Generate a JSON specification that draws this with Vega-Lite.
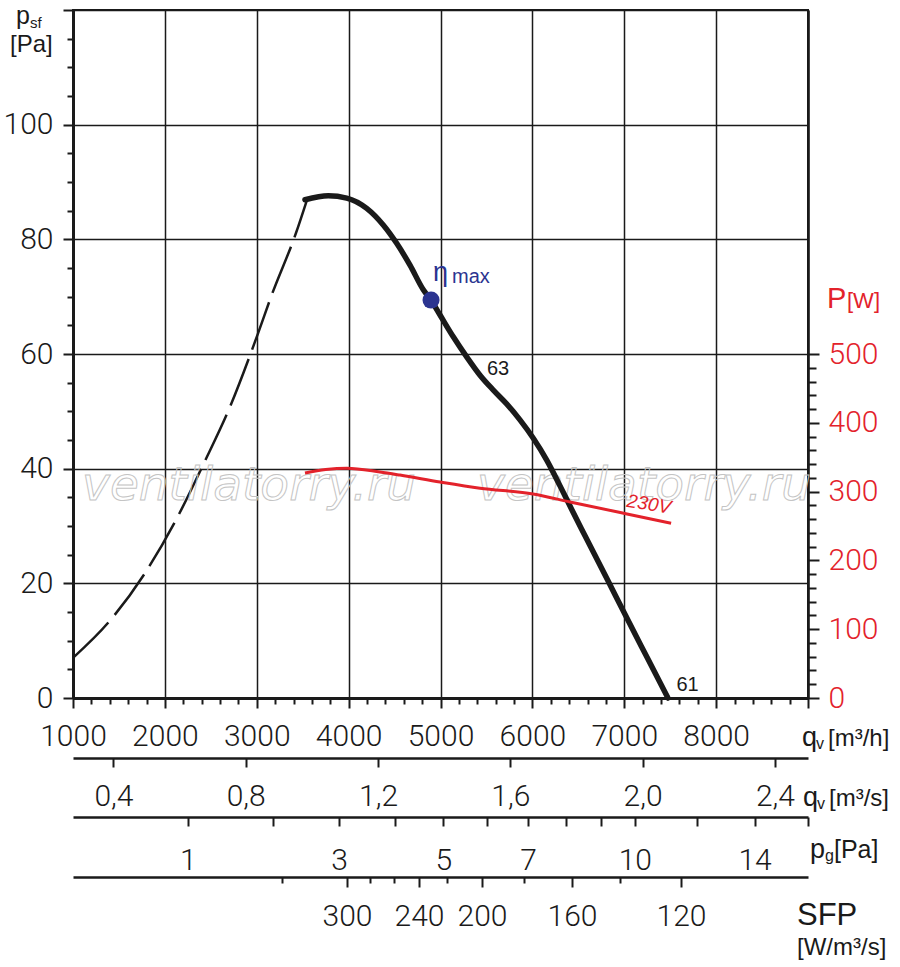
{
  "$schema": "https://vega.github.io/schema/vega-lite/v6.json",
  "width": 735,
  "height": 688,
  "autosize": {"type": "none"},
  "padding": {"left": 73, "top": 10, "right": 92, "bottom": 269},
  "background": "white",
  "config": {
    "view": {"stroke": "#1a1a1a", "strokeWidth": 2},
    "text": {"fontWeight": 300},
    "axis": {
      "labelFont": "Roboto",
      "labelFontSize": 30,
      "labelFontWeight": 300,
      "labelColor": "#1a1a1a",
      "tickColor": "#1a1a1a",
      "domainColor": "#1a1a1a",
      "tickWidth": 2,
      "domainWidth": 2.5,
      "gridColor": "#1a1a1a",
      "gridWidth": 1.5,
      "labelOverlap": false,
      "labelFlush": false,
      "labelBound": false
    }
  },
  "datasets": {
    "fan_dashed": [
      {"qv": 1000, "psf": 7.0},
      {"qv": 1392, "psf": 13.3},
      {"qv": 1784, "psf": 21.8},
      {"qv": 2132, "psf": 31.4},
      {"qv": 2426, "psf": 41.0},
      {"qv": 2709, "psf": 50.8},
      {"qv": 3014, "psf": 63.6},
      {"qv": 3163, "psf": 70.3},
      {"qv": 3427, "psf": 81.1},
      {"qv": 3547, "psf": 86.9}
    ],
    "fan_solid": [
      {"qv": 3525, "psf": 86.9},
      {"qv": 3779, "psf": 87.6},
      {"qv": 3979, "psf": 87.2},
      {"qv": 4197, "psf": 85.4},
      {"qv": 4377, "psf": 82.5},
      {"qv": 4523, "psf": 79.3},
      {"qv": 4668, "psf": 75.5},
      {"qv": 4813, "psf": 71.2},
      {"qv": 4897, "psf": 69.4},
      {"qv": 4995, "psf": 66.8},
      {"qv": 5139, "psf": 63.0},
      {"qv": 5285, "psf": 59.5},
      {"qv": 5430, "psf": 56.3},
      {"qv": 5575, "psf": 53.7},
      {"qv": 5720, "psf": 51.3},
      {"qv": 5865, "psf": 48.5},
      {"qv": 6010, "psf": 45.3},
      {"qv": 6156, "psf": 41.5},
      {"qv": 6301, "psf": 37.0},
      {"qv": 6446, "psf": 32.3},
      {"qv": 6573, "psf": 28.3},
      {"qv": 6812, "psf": 20.8},
      {"qv": 7030, "psf": 13.9},
      {"qv": 7248, "psf": 7.1},
      {"qv": 7476, "psf": 0}
    ],
    "power": [
      {"qv": 3525, "p": 327},
      {"qv": 3750, "p": 332},
      {"qv": 3982, "p": 334},
      {"qv": 4341, "p": 328.5},
      {"qv": 4559, "p": 324},
      {"qv": 4995, "p": 314},
      {"qv": 5430, "p": 305},
      {"qv": 6007, "p": 296.5},
      {"qv": 6410, "p": 285},
      {"qv": 7030, "p": 267.5},
      {"qv": 7510, "p": 254}
    ],
    "eta": [{"qv": 4897, "psf": 69.4}],
    "sfp": [
      {"sfp": 350, "qv": 3275},
      {"sfp": 300, "qv": 3982},
      {"sfp": 280, "qv": 4233},
      {"sfp": 260, "qv": 4494},
      {"sfp": 240, "qv": 4766},
      {"sfp": 220, "qv": 5071},
      {"sfp": 200, "qv": 5452},
      {"sfp": 180, "qv": 5909},
      {"sfp": 160, "qv": 6431},
      {"sfp": 140, "qv": 6954},
      {"sfp": 120, "qv": 7618}
    ]
  },
  "layer": [
    {
      "data": {"name": "fan_dashed"},
      "mark": {"type": "line", "color": "#1a1a1a", "strokeWidth": 2.5, "strokeDash": [50, 10], "interpolate": "monotone"},
      "encoding": {
        "x": {
          "field": "qv", "type": "quantitative",
          "scale": {"domain": [1000, 9000], "nice": false, "zero": false},
          "axis": {
            "orient": "bottom",
            "title": null,
            "values": [1000,1200,1400,1600,1800,2000,2200,2400,2600,2800,3000,3200,3400,3600,3800,4000,4200,4400,4600,4800,5000,5200,5400,5600,5800,6000,6200,6400,6600,6800,7000,7200,7400,7600,7800,8000,8200,8400,8600,8800,9000],
            "format": "d",
            "labelExpr": "datum.value % 1000 == 0 && datum.value < 9000 ? datum.label : ''",
            "tickSize": {"condition": {"test": "datum.value % 1000 == 0", "value": 10}, "value": 6},
            "grid": true,
            "gridOpacity": {"condition": {"test": "datum.value % 1000 == 0", "value": 1}, "value": 0},
            "labelPadding": 13,
            "domainWidth": 3
          }
        },
        "y": {
          "field": "psf", "type": "quantitative",
          "scale": {"domain": [0, 120], "nice": false, "zero": false},
          "axis": {
            "orient": "left",
            "title": null,
            "values": [0,5,10,15,20,25,30,35,40,45,50,55,60,65,70,75,80,85,90,95,100,105,110,115,120],
            "labelExpr": "datum.value % 20 == 0 && datum.value <= 100 ? datum.label : ''",
            "tickSize": {"condition": {"test": "datum.value % 20 == 0", "value": 10}, "value": 6},
            "grid": true,
            "gridOpacity": {"condition": {"test": "datum.value % 20 == 0", "value": 1}, "value": 0},
            "labelPadding": 10,
            "domainWidth": 3
          }
        }
      }
    },
    {
      "data": {"values": [{}]},
      "encoding": {
        "x": {"type": "quantitative", "scale": {"domain": [1000, 9000], "nice": false, "zero": false}, "axis": null},
        "y": {"type": "quantitative", "scale": {"domain": [0, 120], "nice": false, "zero": false}, "axis": null}
      },
      "layer": [
        {
          "mark": {"type": "text", "text": "ventilatorry.ru", "font": "DejaVu Sans", "fontStyle": "italic", "fontWeight": "normal", "fontSize": 47, "align": "center", "baseline": "alphabetic", "fill": "white", "fillOpacity": 0, "stroke": "#c4c4c4", "strokeWidth": 1},
          "encoding": {
            "x": {"datum": 2916, "type": "quantitative", "axis": null},
            "y": {"datum": 34.5, "type": "quantitative", "axis": null}
          }
        },
        {
          "mark": {"type": "text", "text": "ventilatorry.ru", "font": "DejaVu Sans", "fontStyle": "italic", "fontWeight": "normal", "fontSize": 47, "align": "center", "baseline": "alphabetic", "fill": "white", "fillOpacity": 0, "stroke": "#c4c4c4", "strokeWidth": 1},
          "encoding": {
            "x": {"datum": 7215, "type": "quantitative", "axis": null},
            "y": {"datum": 34.5, "type": "quantitative", "axis": null}
          }
        },
        {
          "data": {"name": "fan_solid"},
          "mark": {"type": "line", "color": "#1a1a1a", "strokeWidth": 5.5, "strokeCap": "round", "interpolate": "monotone"},
          "encoding": {
            "x": {"field": "qv", "type": "quantitative", "axis": null},
            "y": {"field": "psf", "type": "quantitative", "axis": null}
          }
        },
        {
          "data": {"name": "eta"},
          "mark": {"type": "point", "filled": true, "color": "#2b3490", "size": 290, "opacity": 1},
          "encoding": {
            "x": {"field": "qv", "type": "quantitative", "axis": null},
            "y": {"field": "psf", "type": "quantitative", "axis": null}
          }
        },
        {
          "mark": {"type": "text", "text": "η", "fontSize": 27, "fontWeight": "normal", "align": "left", "baseline": "alphabetic", "color": "#2b3490", "dx": 2, "dy": -19},
          "encoding": {
            "x": {"datum": 4897, "type": "quantitative", "axis": null},
            "y": {"datum": 69.4, "type": "quantitative", "axis": null}
          }
        },
        {
          "mark": {"type": "text", "text": "max", "fontSize": 20, "fontWeight": "normal", "align": "left", "baseline": "alphabetic", "color": "#2b3490", "dx": 21, "dy": -17},
          "encoding": {
            "x": {"datum": 4897, "type": "quantitative", "axis": null},
            "y": {"datum": 69.4, "type": "quantitative", "axis": null}
          }
        },
        {
          "mark": {"type": "text", "text": "63", "fontSize": 20, "align": "center", "baseline": "middle", "color": "#1a1a1a"},
          "encoding": {
            "x": {"datum": 5626, "type": "quantitative", "axis": null},
            "y": {"datum": 57.3, "type": "quantitative", "axis": null}
          }
        },
        {
          "mark": {"type": "text", "text": "61", "fontSize": 20, "align": "center", "baseline": "middle", "color": "#1a1a1a"},
          "encoding": {
            "x": {"datum": 7689, "type": "quantitative", "axis": null},
            "y": {"datum": 2.35, "type": "quantitative", "axis": null}
          }
        },
        {
          "mark": {"type": "text", "text": "230V", "fontSize": 19, "fontWeight": "normal", "fontStyle": "italic", "align": "center", "baseline": "middle", "color": "#e3222b", "angle": 9},
          "encoding": {
            "x": {"datum": 7269, "type": "quantitative", "axis": null},
            "y": {"datum": 33.8, "type": "quantitative", "axis": null}
          }
        },
        {
          "mark": {"type": "text", "text": "p", "fontSize": 25, "align": "left", "baseline": "alphabetic", "color": "#1a1a1a", "dx": -57, "dy": 14},
          "encoding": {
            "x": {"datum": 1000, "type": "quantitative", "axis": null},
            "y": {"datum": 120, "type": "quantitative", "axis": null}
          }
        },
        {
          "mark": {"type": "text", "text": "sf", "fontSize": 15, "align": "left", "baseline": "alphabetic", "color": "#1a1a1a", "dx": -43, "dy": 18},
          "encoding": {
            "x": {"datum": 1000, "type": "quantitative", "axis": null},
            "y": {"datum": 120, "type": "quantitative", "axis": null}
          }
        },
        {
          "mark": {"type": "text", "text": "[Pa]", "fontSize": 24, "align": "left", "baseline": "alphabetic", "color": "#1a1a1a", "dx": -63, "dy": 42},
          "encoding": {
            "x": {"datum": 1000, "type": "quantitative", "axis": null},
            "y": {"datum": 120, "type": "quantitative", "axis": null}
          }
        },
        {
          "mark": {"type": "text", "text": "P", "fontSize": 29, "align": "left", "baseline": "alphabetic", "color": "#e3222b", "dx": 19, "dy": 298},
          "encoding": {
            "x": {"datum": 9000, "type": "quantitative", "axis": null},
            "y": {"datum": 120, "type": "quantitative", "axis": null}
          }
        },
        {
          "mark": {"type": "text", "text": "[W]", "fontSize": 22, "align": "left", "baseline": "alphabetic", "color": "#e3222b", "dx": 39, "dy": 298},
          "encoding": {
            "x": {"datum": 9000, "type": "quantitative", "axis": null},
            "y": {"datum": 120, "type": "quantitative", "axis": null}
          }
        },
        {
          "mark": {"type": "text", "text": "q", "fontSize": 27, "align": "left", "baseline": "alphabetic", "color": "#1a1a1a", "dx": -6, "dy": 48},
          "encoding": {
            "x": {"datum": 9000, "type": "quantitative", "axis": null},
            "y": {"datum": 0, "type": "quantitative", "axis": null}
          }
        },
        {
          "mark": {"type": "text", "text": "v", "fontSize": 16, "align": "left", "baseline": "alphabetic", "color": "#1a1a1a", "dx": 8, "dy": 51},
          "encoding": {
            "x": {"datum": 9000, "type": "quantitative", "axis": null},
            "y": {"datum": 0, "type": "quantitative", "axis": null}
          }
        },
        {
          "mark": {"type": "text", "text": "[m³/h]", "fontSize": 24, "align": "left", "baseline": "alphabetic", "color": "#1a1a1a", "dx": 20, "dy": 48},
          "encoding": {
            "x": {"datum": 9000, "type": "quantitative", "axis": null},
            "y": {"datum": 0, "type": "quantitative", "axis": null}
          }
        },
        {
          "mark": {"type": "text", "text": "q", "fontSize": 27, "align": "left", "baseline": "alphabetic", "color": "#1a1a1a", "dx": -5, "dy": 108},
          "encoding": {
            "x": {"datum": 9000, "type": "quantitative", "axis": null},
            "y": {"datum": 0, "type": "quantitative", "axis": null}
          }
        },
        {
          "mark": {"type": "text", "text": "v", "fontSize": 16, "align": "left", "baseline": "alphabetic", "color": "#1a1a1a", "dx": 9, "dy": 111},
          "encoding": {
            "x": {"datum": 9000, "type": "quantitative", "axis": null},
            "y": {"datum": 0, "type": "quantitative", "axis": null}
          }
        },
        {
          "mark": {"type": "text", "text": "[m³/s]", "fontSize": 24, "align": "left", "baseline": "alphabetic", "color": "#1a1a1a", "dx": 21, "dy": 108},
          "encoding": {
            "x": {"datum": 9000, "type": "quantitative", "axis": null},
            "y": {"datum": 0, "type": "quantitative", "axis": null}
          }
        },
        {
          "mark": {"type": "text", "text": "p", "fontSize": 27, "align": "left", "baseline": "alphabetic", "color": "#1a1a1a", "dx": 2, "dy": 160},
          "encoding": {
            "x": {"datum": 9000, "type": "quantitative", "axis": null},
            "y": {"datum": 0, "type": "quantitative", "axis": null}
          }
        },
        {
          "mark": {"type": "text", "text": "g", "fontSize": 16, "align": "left", "baseline": "alphabetic", "color": "#1a1a1a", "dx": 17, "dy": 163},
          "encoding": {
            "x": {"datum": 9000, "type": "quantitative", "axis": null},
            "y": {"datum": 0, "type": "quantitative", "axis": null}
          }
        },
        {
          "mark": {"type": "text", "text": "[Pa]", "fontSize": 25, "align": "left", "baseline": "alphabetic", "color": "#1a1a1a", "dx": 26, "dy": 160},
          "encoding": {
            "x": {"datum": 9000, "type": "quantitative", "axis": null},
            "y": {"datum": 0, "type": "quantitative", "axis": null}
          }
        },
        {
          "mark": {"type": "text", "text": "SFP", "fontSize": 31, "align": "left", "baseline": "alphabetic", "color": "#1a1a1a", "dx": -11, "dy": 227},
          "encoding": {
            "x": {"datum": 9000, "type": "quantitative", "axis": null},
            "y": {"datum": 0, "type": "quantitative", "axis": null}
          }
        },
        {
          "mark": {"type": "text", "text": "[W/m³/s]", "fontSize": 24, "align": "left", "baseline": "alphabetic", "color": "#1a1a1a", "dx": -11, "dy": 257},
          "encoding": {
            "x": {"datum": 9000, "type": "quantitative", "axis": null},
            "y": {"datum": 0, "type": "quantitative", "axis": null}
          }
        }
      ]
    },
    {
      "data": {"name": "power"},
      "mark": {"type": "line", "color": "#e3222b", "strokeWidth": 3, "interpolate": "monotone"},
      "encoding": {
        "x": {"field": "qv", "type": "quantitative", "scale": {"domain": [1000, 9000], "nice": false, "zero": false}, "axis": null},
        "y": {
          "field": "p", "type": "quantitative",
          "scale": {"domain": [0, 1000], "nice": false, "zero": false},
          "axis": {
            "orient": "right",
            "title": null,
            "values": [0,20,40,60,80,100,120,140,160,180,200,220,240,260,280,300,320,340,360,380,400,420,440,460,480,500],
            "labelExpr": "datum.value % 100 == 0 ? datum.label : ''",
            "tickSize": {"condition": {"test": "datum.value % 100 == 0", "value": 11}, "value": 8},
            "grid": false,
            "labelColor": "#e3222b",
            "labelPadding": 9,
            "domainWidth": 2.5
          }
        }
      }
    },
    {
      "data": {"values": [{}]},
      "mark": {"type": "point", "opacity": 0},
      "encoding": {
        "x": {
          "datum": 1.2, "type": "quantitative",
          "scale": {"domain": [0.277778, 2.5], "nice": false, "zero": false},
          "axis": {
            "orient": "bottom",
            "offset": 60,
            "title": null,
            "values": [0.4, 0.8, 1.2, 1.6, 2.0, 2.4],
            "labelExpr": "replace(format(datum.value, '.1f'), '.', ',')",
            "tickSize": 9,
            "labelPadding": 14,
            "grid": false
          }
        }
      }
    },
    {
      "data": {"values": [{}]},
      "mark": {"type": "point", "opacity": 0},
      "encoding": {
        "x": {
          "datum": 4, "type": "quantitative",
          "scale": {"type": "sqrt", "domain": [0.197531, 16], "nice": false, "zero": false},
          "axis": {
            "orient": "bottom",
            "offset": 119,
            "title": null,
            "values": [1, 2, 3, 4, 5, 6, 7, 8, 9, 10, 12, 14, 16],
            "labelExpr": "indexof([1, 3, 5, 7, 10, 14], datum.value) >= 0 ? datum.label : ''",
            "tickSize": 9,
            "labelPadding": 19,
            "grid": false
          }
        }
      }
    },
    {
      "data": {"name": "sfp"},
      "mark": {"type": "point", "opacity": 0},
      "encoding": {
        "x": {
          "field": "qv", "type": "quantitative",
          "scale": {"domain": [1000, 9000], "nice": false, "zero": false},
          "axis": {
            "orient": "bottom",
            "offset": 179,
            "title": null,
            "values": [3275, 3982, 4233, 4494, 4766, 5071, 5452, 5909, 6431, 6954, 7618],
            "labelExpr": "datum.value == 3982 ? '300' : datum.value == 4766 ? '240' : datum.value == 5452 ? '200' : datum.value == 6431 ? '160' : datum.value == 7618 ? '120' : ''",
            "tickSize": {"condition": {"test": "indexof([3982, 4766, 5452, 6431, 7618], datum.value) >= 0", "value": 10}, "value": 6},
            "labelPadding": 14,
            "grid": false
          }
        }
      }
    }
  ],
  "resolve": {
    "scale": {"x": "independent", "y": "independent"},
    "axis": {"x": "independent", "y": "independent"}
  }
}
